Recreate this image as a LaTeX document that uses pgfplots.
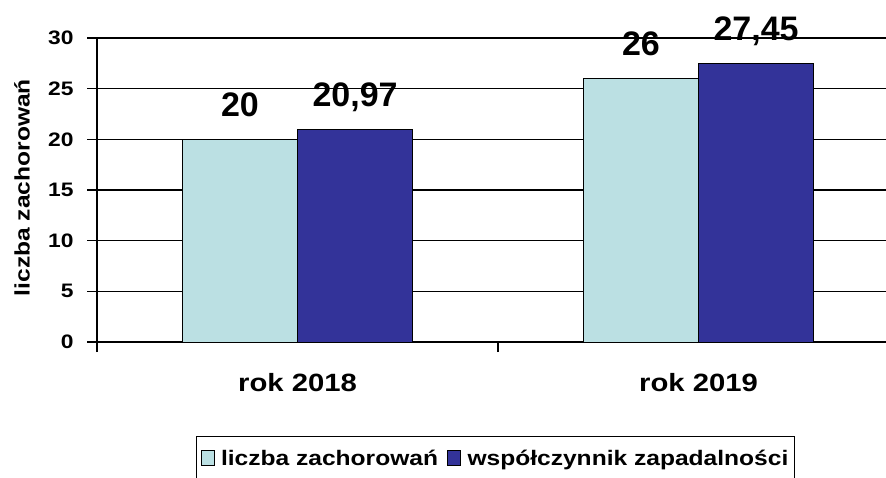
\documentclass[border=0pt]{standalone}
\usepackage{pgfplots}
\pgfplotsset{compat=1.18}
\usepackage{fontspec}
\setmainfont{Liberation Sans}
\newfontfamily\wf{Liberation Sans}[FakeStretch=1.17]
\definecolor{lightc}{HTML}{BBE0E3}
\definecolor{darkc}{HTML}{333399}
\begin{document}
\begin{tikzpicture}
\path[use as bounding box] (0,0) rectangle (886pt,477pt);
\begin{axis}[
  at={(97pt,135pt)}, anchor=south west,
  scale only axis, width=789pt, height=304pt,
  xmin=-0.5, xmax=1.4676, ymin=0, ymax=30,
  ybar=0pt, bar width=0.287,
  axis x line=bottom, axis y line=left,
  axis line style={-, line width=1.3pt, black},
  ytick={0,5,...,30}, ymajorgrids, grid style={black, line width=1.1pt},
  tick align=outside, major tick length=10pt,
  tick style={black, line width=1.1pt},
  xtick={-0.5,0.5}, xticklabels={},
  extra x ticks={0,1}, extra x tick labels={rok 2018, rok 2019},
  extra x tick style={major tick length=0pt, xticklabel style={yshift=-28pt}},
  xticklabel style={font=\wf\bfseries\fontsize{25}{25}\selectfont},
  yticklabel style={xshift=-10pt, font=\wf\bfseries\fontsize{19.5}{19.5}\selectfont},
  /pgf/number format/.cd, use comma, fixed, precision=2, assume math mode=true, /pgfplots/.cd,
  ylabel={liczba zachorowań},
  ylabel style={at={(axis description cs:-0.0950,0.508)}, anchor=center, font=\wf\bfseries\fontsize{21}{21}\selectfont},
  nodes near coords, point meta=y,
  every node near coord/.append style={anchor=base, yshift=23pt, font=\bfseries\fontsize{34}{34}\selectfont, black},
  legend columns=2,
  legend style={at={(axis description cs:0.1255,-0.3158)}, anchor=north west, draw=black, line width=1.2pt,
    font=\wf\bfseries\fontsize{21}{25}\selectfont, inner xsep=4pt, inner ysep=11pt, yshift=2pt,
    /tikz/every odd column/.append style={column sep=4.5pt},
    /tikz/every even column/.append style={column sep=7pt}},
  legend image code/.code={\draw[#1, draw=black, line width=0.9pt] (0pt,-7.5pt) rectangle (13pt,7.5pt);},
]
\addplot[fill=lightc, draw=black, line width=1pt] coordinates {(0,20) (1,26)};
\addplot[fill=darkc, draw=black, line width=1pt] coordinates {(0,20.97) (1,27.45)};
\legend{liczba zachorowań, współczynnik zapadalności}
\end{axis}
\end{tikzpicture}
\end{document}
